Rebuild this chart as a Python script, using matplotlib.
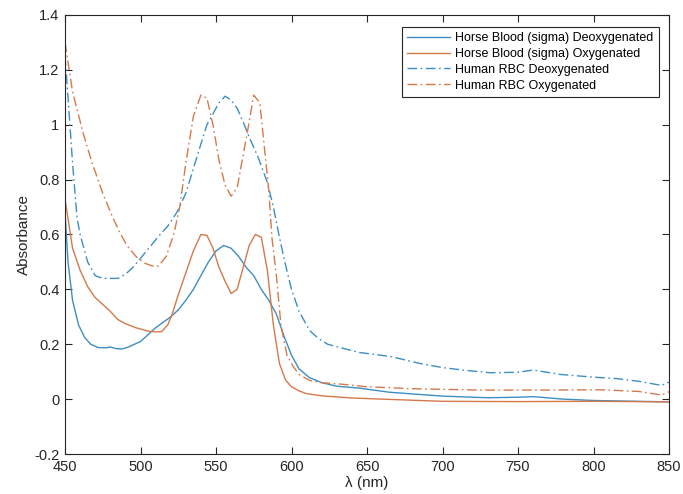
import matplotlib
matplotlib.use("Agg")
import matplotlib.pyplot as plt

plt.rcParams['font.family'] = ['Liberation Sans', 'DejaVu Sans']

# Horse Blood (sigma) Deoxygenated
hd_x = [450, 452, 455, 459, 463, 467, 472, 477, 480, 484, 488, 492, 496, 500, 505, 510, 515, 520, 525, 530,
        535, 540, 545, 550, 555, 560, 565, 570, 575, 580, 585, 590, 595, 600, 605, 612, 620, 630, 645,
        665, 700, 730, 750, 760, 780, 800, 830, 850]
hd_y = [0.68, 0.50, 0.36, 0.27, 0.225, 0.20, 0.188, 0.187, 0.19, 0.184, 0.183, 0.19, 0.20, 0.21, 0.235, 0.26, 0.28, 0.30, 0.325, 0.36,
        0.40, 0.45, 0.50, 0.54, 0.56, 0.55, 0.52, 0.48, 0.45, 0.40, 0.36, 0.31, 0.23, 0.16, 0.11, 0.078, 0.06, 0.047, 0.04,
        0.025, 0.011, 0.005, 0.007, 0.009, 0.0, -0.005, -0.008, -0.01]

# Horse Blood (sigma) Oxygenated
ho_x = [450, 455, 460, 465, 470, 475, 480, 485, 490, 497, 505, 510, 514, 518, 521, 525, 530, 535, 540, 544,
        548, 552, 556, 560, 564, 568, 572, 576, 580, 584, 588, 592, 596, 600, 605, 610, 620, 640, 660,
        700, 750, 800, 850]
ho_y = [0.73, 0.55, 0.47, 0.41, 0.37, 0.345, 0.32, 0.29, 0.275, 0.26, 0.248, 0.245, 0.246, 0.27, 0.31, 0.38, 0.46, 0.54, 0.60, 0.597,
        0.55, 0.48, 0.43, 0.385, 0.40, 0.48, 0.56, 0.60, 0.59, 0.47, 0.27, 0.13, 0.07, 0.045, 0.03, 0.02, 0.012, 0.004, 0.0,
        -0.008, -0.009, -0.008, -0.01]

# Human RBC Deoxygenated
rd_x = [450, 452, 455, 458, 460, 465, 470, 475, 480, 485, 490, 495, 501, 507, 513, 518, 524, 530, 535, 540,
        544, 548, 552, 556, 560, 564, 568, 572, 578, 584, 588, 592, 596, 600, 605, 612, 618, 624, 632,
        645, 666, 685, 700, 715, 732, 750, 760, 778, 800, 815, 830, 845, 850]
rd_y = [1.25, 1.10, 0.86, 0.66, 0.60, 0.50, 0.45, 0.44, 0.44, 0.44, 0.455, 0.48, 0.52, 0.56, 0.60, 0.63, 0.68, 0.75, 0.84, 0.93,
        1.0, 1.04, 1.08, 1.104, 1.09, 1.06, 1.01, 0.955, 0.88, 0.79, 0.70, 0.59, 0.49, 0.40, 0.32, 0.25, 0.22, 0.20, 0.188,
        0.17, 0.155, 0.13, 0.115, 0.105, 0.096, 0.098, 0.106, 0.09, 0.08, 0.075, 0.065, 0.05, 0.062]

# Human RBC Oxygenated
ro_x = [450, 455, 462, 468, 475, 481, 486, 491, 497, 503, 508, 512, 517, 522, 526, 530, 535, 540, 544, 548,
        552, 556, 560, 564, 567, 571, 575, 579, 582, 585, 587, 590, 593, 597, 601, 605, 612, 620, 632,
        650, 680, 725, 765, 805, 830, 845, 850]
ro_y = [1.30, 1.12, 0.97, 0.86, 0.75, 0.67, 0.61, 0.56, 0.52, 0.495, 0.485, 0.485, 0.52, 0.60, 0.70, 0.86, 1.03, 1.108, 1.097, 1.0,
        0.87, 0.78, 0.74, 0.77, 0.86, 0.98, 1.108, 1.08, 0.92, 0.76, 0.59, 0.45, 0.27, 0.16, 0.12, 0.09, 0.068, 0.06, 0.055,
        0.045, 0.038, 0.033, 0.033, 0.034, 0.028, 0.015, 0.027]

labels = ["Horse Blood (sigma) Deoxygenated", "Horse Blood (sigma) Oxygenated",
          "Human RBC Deoxygenated", "Human RBC Oxygenated"]
x_ticks = [450, 500, 550, 600, 650, 700, 750, 800, 850]
y_ticks = [-0.2, 0, 0.2, 0.4, 0.6, 0.8, 1.0, 1.2, 1.4]
y_tick_labels = ["-0.2", "0", "0.2", "0.4", "0.6", "0.8", "1", "1.2", "1.4"]

blue = '#3D8EC2'
orange = '#D5794B'

fig = plt.figure(figsize=(6.83, 4.94), dpi=100)
ax = fig.add_axes([65/683, 40/494, (669-65)/683, (454-15)/494])

dd = (7, 2.5, 1.2, 2.5)
ax.plot(hd_x, hd_y, color=blue, lw=1.0, label=labels[0])
ax.plot(ho_x, ho_y, color=orange, lw=1.0, label=labels[1])
ax.plot(rd_x, rd_y, color=blue, lw=1.0, linestyle=(0, dd), label=labels[2])
ax.plot(ro_x, ro_y, color=orange, lw=1.0, linestyle=(0, dd), label=labels[3])

ax.set_xlim(450, 850)
ax.set_ylim(-0.2, 1.4)
ax.set_xticks(x_ticks)
ax.set_yticks(y_ticks)
ax.set_yticklabels(y_tick_labels)
for s in ax.spines.values():
    s.set_color('#262626')
    s.set_linewidth(0.8)
ax.tick_params(direction='in', length=5, width=0.8, colors='#262626', labelsize=10.5,
               top=True, right=True, pad=4)
ax.set_ylabel("Absorbance", fontsize=11, color='#262626', labelpad=2)
ax.set_xlabel("λ (nm)", fontsize=11, color='#262626', labelpad=2)

leg = ax.legend(loc='upper right', bbox_to_anchor=(0.983, 0.972), fontsize=9.0, frameon=True,
                fancybox=False, edgecolor='#262626', framealpha=1, handlelength=3.5,
                borderpad=0.4, labelspacing=0.3, handletextpad=0.4, borderaxespad=0)
leg.get_frame().set_linewidth(0.8)

fig.savefig("out.png", dpi=100)
